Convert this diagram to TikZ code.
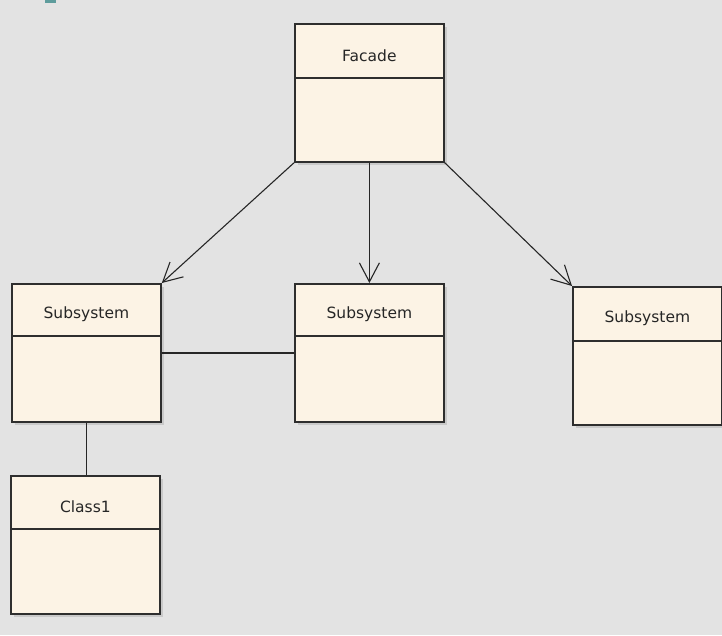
\documentclass[tikz,border=0pt]{standalone}
\usepackage{fontspec}
\setmainfont{DejaVu Sans}
\usetikzlibrary{arrows.meta,calc}
\definecolor{bg}{HTML}{E3E3E3}
\definecolor{boxfill}{HTML}{FCF3E5}
\definecolor{boxline}{HTML}{2E2E2E}
\definecolor{shade}{HTML}{C9C9C9}
\definecolor{tealmark}{HTML}{5E9C9C}
\tikzset{
  classbox/.style={draw=boxline, line width=1.8pt, fill=boxfill, rectangle,
    anchor=north west, inner sep=0pt, minimum width=149pt, minimum height=138pt},
  shadowbox/.style={fill=shade, draw=none},
  divider/.style={draw=boxline, line width=1.6pt},
  title/.style={font=\fontsize{15.5}{18}\selectfont, text=black!85, anchor=center},
  assoc/.style={draw=black!85, line width=1.1pt},
  navig/.style={assoc, -{Straight Barb[length=19pt,width=20pt,line width=1.1pt]}},
}
% one UML class: shadow, box, compartment line and name
\newcommand{\umlclass}[5]{% name, x, y, header height, label
  \fill[shadowbox] (#2+4,#3+4) rectangle (#2+153,#3+142);
  \node[classbox] (#1) at (#2,#3) {};
  \draw[divider] ($(#1.north west)+(0,#4)$) -- ($(#1.north east)+(0,#4)$);
  \node[title] (#1-name) at ($(#1.north)+(0,#4/2+5)$) {#5};
}
\begin{document}
\begin{tikzpicture}[x=1pt,y=-1pt]
  \fill[bg] (0,0) rectangle (722,635);
  \useasboundingbox (0,0) rectangle (722,635);
  \fill[tealmark] (45,0) rectangle (56,3);

  \umlclass{facade}{294}{23}{55}{Facade}
  \umlclass{subA}{11}{283}{53}{Subsystem}
  \umlclass{subB}{294}{283}{53}{Subsystem}
  \umlclass{subC}{572}{286}{55}{Subsystem}
  \umlclass{cls}{10}{475}{54}{Class1}

  % navigable associations from the facade
  \draw[navig] (facade.south west) -- (subA.north east);
  \draw[navig] (facade.south) -- (subB.north);
  \draw[navig] (facade.south east) -- (subC.north west);

  % plain associations
  \draw[assoc] ($(subA.north east)+(0,70)$) coordinate (a1) -- (a1 -| subB.west);
  \draw[assoc] ($(subA.south)$) -- (subA.south |- cls.north);
\end{tikzpicture}
\end{document}
